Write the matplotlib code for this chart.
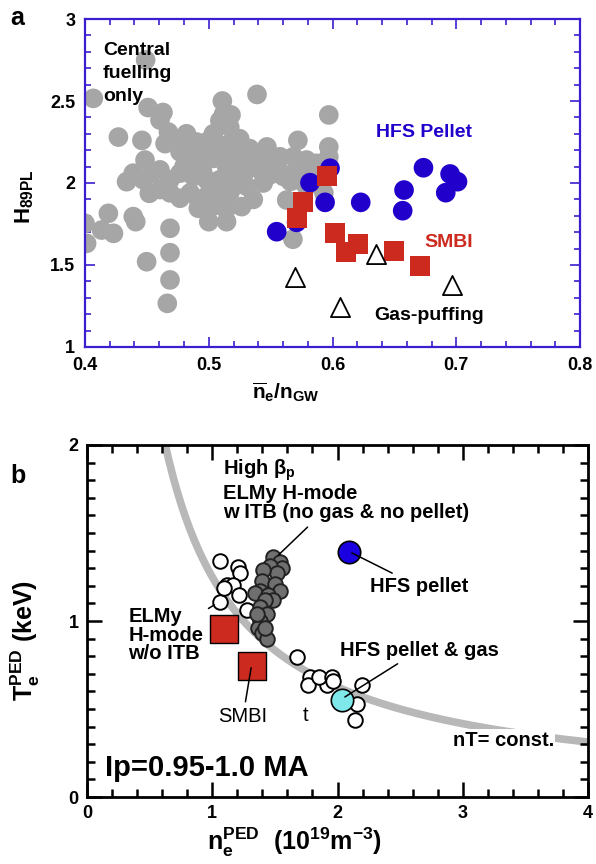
import numpy as np
import matplotlib
matplotlib.use("Agg")
import matplotlib.pyplot as plt
from matplotlib.ticker import MultipleLocator

plt.rcParams['font.family'] = ['Liberation Sans', 'DejaVu Sans']
plt.rcParams['font.weight'] = 'bold'
plt.rcParams['axes.labelweight'] = 'bold'
plt.rcParams['mathtext.fontset'] = 'custom'
plt.rcParams['mathtext.rm'] = 'Liberation Sans:bold'
plt.rcParams['mathtext.bf'] = 'Liberation Sans:bold'
plt.rcParams['mathtext.it'] = 'Liberation Sans:bold'

# ---- panel a : H89PL vs ne/nGW ----
central_x = [0.4067, 0.449, 0.427, 0.446, 0.451, 0.463, 0.4606, 0.539, 0.511, 0.512,
             0.518, 0.597, 0.597, 0.597, 0.572, 0.482, 0.4485, 0.4336, 0.452, 0.4768,
             0.4916, 0.5266, 0.500, 0.5144, 0.563, 0.568, 0.400, 0.4013, 0.4134, 0.4189,
             0.423, 0.439, 0.441, 0.4687, 0.4687, 0.4498, 0.4687, 0.4665,
             0.4647, 0.4674, 0.4768, 0.4889, 0.4983, 0.5037, 0.509, 0.5185, 0.525, 0.533,
             0.5226, 0.5306, 0.547, 0.5576, 0.5684, 0.579, 0.587, 0.5414, 0.5495, 0.5603,
             0.566, 0.574, 0.585, 0.593, 0.590, 0.485, 0.4943, 0.5037, 0.514, 0.5226,
             0.509, 0.4983, 0.4876, 0.4768, 0.4687, 0.4606, 0.454, 0.447, 0.439, 0.4606,
             0.4687, 0.485, 0.4983, 0.509, 0.517, 0.5199, 0.5306, 0.536, 0.4916, 0.5037,
             0.514, 0.5576, 0.571, 0.509, 0.517, 0.525, 0.490, 0.4768, 0.547, 0.579,
             0.554, 0.536, 0.4943, 0.5024, 0.5118, 0.4889, 0.5, 0.507, 0.515, 0.495,
             0.52, 0.528, 0.505, 0.512, 0.48, 0.572, 0.544, 0.551]
central_y = [2.516, 2.75, 2.28, 2.26, 2.46, 2.43, 2.384, 2.54, 2.50, 2.42,
             2.415, 2.415, 2.22, 2.16, 2.26, 2.30, 2.14, 2.008, 1.937, 1.907,
             1.846, 1.856, 1.764, 1.764, 1.896, 1.657, 1.754, 1.632, 1.713, 1.815,
             1.693, 1.795, 1.764, 1.724, 1.575, 1.52, 1.409, 1.266,
             2.24, 2.31, 2.19, 2.21, 2.25, 2.30, 2.21, 2.25, 2.23, 2.21,
             2.16, 2.12, 2.19, 2.16, 2.16, 2.14, 2.12, 2.08, 2.05, 2.04,
             2.01, 2.08, 2.06, 1.94, 2.00, 2.15, 2.11, 2.15, 2.11, 2.06,
             2.02, 2.02, 2.04, 2.06, 2.02, 2.08, 2.06, 2.02, 2.06, 1.96,
             1.94, 1.94, 1.92, 1.90, 1.94, 1.98, 1.98, 1.90, 1.90, 1.86,
             1.84, 2.07, 2.02, 2.38, 2.34, 2.27, 2.25, 2.23, 2.22, 1.98,
             2.11, 2.16, 2.19, 2.17, 2.19, 2.13, 2.18, 2.24, 2.14, 2.07,
             2.2, 2.05, 2.0, 1.97, 2.1, 2.1, 2.0, 2.13]

pellet_x = [0.5549, 0.5818, 0.594, 0.598, 0.571, 0.6228, 0.6578, 0.6567, 0.6735, 0.695, 0.701, 0.6915]
pellet_y = [1.703, 2.002, 1.882, 2.09, 1.76, 1.882, 1.957, 1.831, 2.093, 2.055, 2.008, 1.941]

smbi_a_x = [0.5958, 0.5759, 0.571, 0.602, 0.611, 0.6209, 0.6497, 0.6707]
smbi_a_y = [2.043, 1.886, 1.785, 1.693, 1.581, 1.626, 1.587, 1.496]

gas_x = [0.5697, 0.606, 0.6352, 0.6963]
gas_y = [1.425, 1.246, 1.567, 1.376]

# ---- panel b : Te_PED vs ne_PED ----
elmy_x = [1.062, 1.208, 1.222, 1.115, 1.168, 1.216, 1.062, 1.275, 1.09, 1.674,
          1.78, 1.767, 1.913, 1.85, 1.953, 2.193, 2.153, 2.14, 1.96]
elmy_y = [1.343, 1.309, 1.271, 1.205, 1.205, 1.148, 1.110, 1.063, 1.19, 0.794,
          0.684, 0.636, 0.636, 0.68, 0.684, 0.636, 0.528, 0.4375, 0.66]

itb_x = [1.488, 1.541, 1.554, 1.461, 1.514, 1.408, 1.395, 1.50, 1.541, 1.382, 1.342,
         1.448, 1.488, 1.421, 1.382, 1.435, 1.382, 1.368, 1.395, 1.435, 1.355, 1.421]
itb_y = [1.365, 1.337, 1.30, 1.31, 1.27, 1.29, 1.23, 1.21, 1.17, 1.17, 1.16,
         1.15, 1.12, 1.12, 1.08, 1.04, 1.00, 0.96, 0.93, 0.90, 1.04, 0.96]

hfs_x, hfs_y = [2.094], [1.394]
hfsgas_x, hfsgas_y = [2.033], [0.551]
smbi_b_x = [1.094, 1.32]
smbi_b_y = [0.955, 0.746]
nT_const = 1.25

fig = plt.figure(figsize=(5.96, 8.64), dpi=100)

# ---------------- panel a ----------------
blue_axis = '#3a1fd0'
ax = fig.add_axes([0.1426, 0.5984, 0.8306, 0.3796])
ax.scatter(central_x, central_y, s=200, c='#a6a6a6', edgecolors='none', zorder=2)
ax.scatter(pellet_x, pellet_y, s=200, c='#2200cc', edgecolors='none', zorder=3)
ax.scatter(smbi_a_x, smbi_a_y, s=210, marker='s', c='#cc2a1e', edgecolors='none', zorder=4)
ax.scatter(gas_x, gas_y, s=190, marker='^', facecolors='white', edgecolors='black',
           linewidths=1.3, zorder=5)
ax.set_xlim(0.4, 0.8)
ax.set_ylim(1, 3)
ax.xaxis.set_minor_locator(MultipleLocator(0.02))
ax.yaxis.set_minor_locator(MultipleLocator(0.1))
ax.set_xticks([0.4, 0.5, 0.6, 0.7, 0.8], ['0.4', '0.5', '0.6', '0.7', '0.8'])
ax.set_yticks([1, 1.5, 2, 2.5, 3], ['1', '1.5', '2', '2.5', '3'])
ax.tick_params(which='both', direction='in', top=True, right=True, color=blue_axis,
               labelsize=13, width=1.2)
ax.tick_params(which='major', length=7, pad=7)
ax.tick_params(which='minor', length=4)
for sp in ax.spines.values():
    sp.set_color(blue_axis)
    sp.set_linewidth(1.6)
ax.set_xlabel(r'$\overline{\mathrm{n}}_\mathrm{e}$/n$_\mathrm{GW}$', fontsize=15)
ax.set_ylabel(r'H$_\mathrm{89PL}$', fontsize=16)
ax.xaxis.set_label_coords(0.405, -0.102)
ax.yaxis.set_label_coords(-0.098, 0.46)

ax.text(0.4145, 2.86, 'Central\nfuelling\nonly', fontsize=14, va='top', ha='left',
        linespacing=1.45, zorder=6)
ax.text(0.6348, 2.305, 'HFS Pellet', color='#2200cc', fontsize=14, va='center')
ax.text(0.674, 1.64, 'SMBI', color='#cc2a1e', fontsize=14, va='center')
ax.text(0.6335, 1.195, 'Gas-puffing', fontsize=14, va='center')
fig.text(0.017, 0.979, 'a', fontsize=18, va='center')

# ---------------- panel b ----------------
bx = fig.add_axes([0.146, 0.0775, 0.8406, 0.4075])
nx = np.linspace(0.6, 4.0, 200)
bx.plot(nx, nT_const / nx, color='#b8b8b8', lw=5.5, solid_capstyle='butt', zorder=1)
bx.scatter(elmy_x, elmy_y, s=110, facecolors='white', edgecolors='black', linewidths=1.4, zorder=3)
bx.scatter(itb_x, itb_y, s=110, facecolors='#6f6f6f', edgecolors='#222222', linewidths=1.4, zorder=4)
bx.scatter(hfs_x, hfs_y, s=260, c='#1a00e0', edgecolors='black', linewidths=1.2, zorder=4)
bx.scatter(hfsgas_x, hfsgas_y, s=260, c='#7fe8ea', edgecolors='black', linewidths=1.2, zorder=4)
bx.scatter(smbi_b_x, smbi_b_y, s=400, marker='s', c='#cc2a1e', edgecolors='black',
           linewidths=1.0, zorder=5)
bx.set_xlim(0, 4)
bx.set_ylim(0, 2)
bx.xaxis.set_major_locator(MultipleLocator(1))
bx.xaxis.set_minor_locator(MultipleLocator(0.2))
bx.yaxis.set_major_locator(MultipleLocator(1))
bx.yaxis.set_minor_locator(MultipleLocator(0.1))
bx.tick_params(which='both', direction='in', top=True, right=True, labelsize=13, width=1.8)
bx.tick_params(which='major', length=11, pad=6)
bx.tick_params(which='minor', length=6)
for sp in bx.spines.values():
    sp.set_linewidth(2.0)
bx.set_xlabel(r'n$_\mathrm{e}^\mathrm{PED}$  (10$^\mathrm{19}$m$^\mathrm{-3}$)', fontsize=18)
bx.set_ylabel(r'T$_\mathrm{e}^\mathrm{PED}$ (keV)', fontsize=18)
bx.xaxis.set_label_coords(0.415, -0.082)
bx.yaxis.set_label_coords(-0.09, 0.446)

line = dict(arrowstyle='-', color='black', lw=1.1)
fs = 14.5
bx.annotate('High $\\beta_\\mathrm{p}$\nELMy H-mode\nw ITB (no gas & no pellet)',
            xy=(1.514, 1.365), xytext=(1.088, 1.56), fontsize=fs, ha='left', va='bottom',
            linespacing=1.05, arrowprops=line, zorder=6)
bx.annotate('ELMy\nH-mode\nw/o ITB', xy=(1.035, 1.10), xytext=(0.33, 0.92),
            fontsize=fs, ha='left', va='center', linespacing=0.95, arrowprops=line, zorder=6)
bx.annotate('SMBI', xy=(1.314, 0.75), xytext=(1.245, 0.456), fontsize=fs,
            fontweight='normal', ha='center', va='center', arrowprops=line, zorder=6)
bx.text(1.72, 0.466, 't', fontsize=fs, fontweight='normal', va='center')
bx.annotate('HFS pellet', xy=(2.094, 1.394), xytext=(2.26, 1.195), fontsize=fs,
            ha='left', va='center', arrowprops=line, zorder=6)
bx.annotate('HFS pellet & gas', xy=(2.04, 0.56), xytext=(2.02, 0.835), fontsize=fs,
            ha='left', va='center', arrowprops=line, zorder=6)
bx.text(2.92, 0.324, 'nT= const.', fontsize=fs, va='center', zorder=6,
        bbox=dict(facecolor='white', edgecolor='none', pad=1))
bx.text(0.144, 0.163, 'Ip=0.95-1.0 MA', fontsize=21, va='center', zorder=6)
fig.text(0.017, 0.449, 'b', fontsize=18, va='center')

fig.savefig('out.png', dpi=100)
